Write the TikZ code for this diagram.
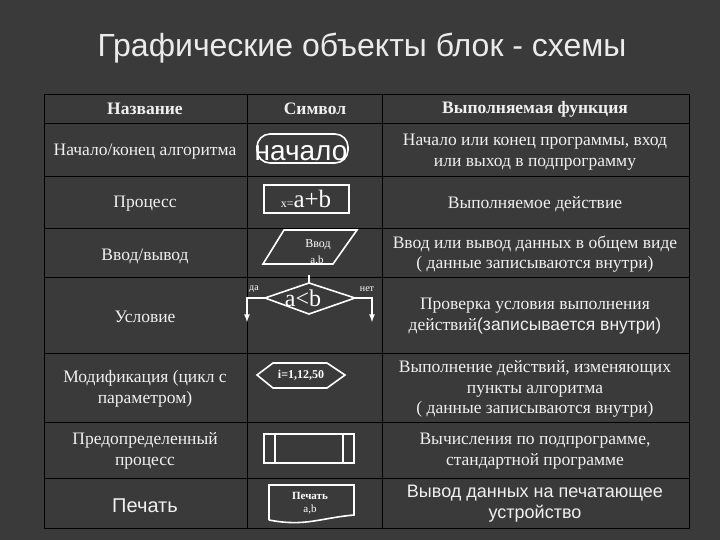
\documentclass[tikz,border=0pt]{standalone}
\usepackage{fontspec}
\setmainfont{Liberation Serif}
\newfontfamily\sansf{Liberation Sans}
\begin{document}
\begin{tikzpicture}[x=1pt,y=-1pt,
  grid/.style={draw=black,line width=0.9pt},
  txt/.style={text={rgb,255:red,240;green,240;blue,240},font=\fontsize{17.5}{20.5}\selectfont,align=center,inner sep=0pt},
  hd/.style={txt,font=\bfseries\fontsize{17.5}{20}\selectfont},
  shp/.style={draw=white,line width=1.6pt},
  sm/.style={text=white,inner sep=0pt}]
\fill[fill={rgb,255:red,58;green,58;blue,58}] (0,0) rectangle (720,540);
\useasboundingbox (0,0) rectangle (720,540);
\node[sm,font=\sansf\fontsize{32}{34}\selectfont,text={rgb,255:red,235;green,235;blue,235}] (title) at (362,48) {Графические объекты блок - схемы};
% grid
\draw[grid] (44,94) rectangle (689,528);
\foreach \y in {123,176,228,277,353,422,478} \draw[grid] (44,\y) -- (689,\y);
\draw[grid] (247,94) -- (247,528);
\draw[grid] (382,94) -- (382,528);
% header
\node[hd] (h1) at (145,109) {Название};
\node[hd] (h2) at (315,109) {Символ};
\node[hd] (h3) at (535,109) {Выполняемая функция};
% column 1
\node[txt] (n1) at (145,152) {Начало/конец алгоритма};
\node[txt] (n2) at (145,204) {Процесс};
\node[txt] (n3) at (145,256) {Ввод/вывод};
\node[txt] (n4) at (145,317) {Условие};
\node[txt] (n5) at (145,389) {Модификация (цикл с\\параметром)};
\node[txt] (n6) at (145,451) {Предопределенный\\процесс};
\node[txt,font=\sansf\fontsize{20}{22}\selectfont] (n7) at (145,506) {Печать};
% column 3
\node[txt] (f1) at (535,152) {Начало или конец программы, вход\\или выход в подпрограмму};
\node[txt] (f2) at (535,204) {Выполняемое действие};
\node[txt] (f3) at (535,254) {Ввод или вывод данных в общем виде\\( данные записываются внутри)};
\node[txt] (f4) at (535,316) {Проверка условия выполнения\\действий{\sansf(записывается внутри)}};
\node[txt] (f5) at (535,389) {Выполнение действий, изменяющих\\пункты алгоритма\\( данные записываются внутри)};
\node[txt] (f6) at (535,451) {Вычисления по подпрограмме,\\стандартной программе};
\node[txt,font=\sansf\fontsize{18}{21}\selectfont] (f7) at (535,504) {Вывод данных на печатающее\\устройство};
% terminal
\draw[shp,rounded corners=13pt] (257,134) rectangle (348,163);
\node[sm,font=\sansf\fontsize{28}{29}\selectfont] (s1) at (301,153) {начало};
% process
\draw[shp] (264,185) rectangle (349,213);
\node[sm] (s2) at (306,199) {{\fontsize{12}{13}\selectfont x=}{\fontsize{25}{26}\selectfont a+b}};
% io
\draw[shp] (263,264) -- (284,230) -- (357,230) -- (333,264) -- cycle;
\node[sm,font=\fontsize{12}{13}\selectfont] (s3a) at (318,245) {Ввод};
\node[sm,font=\fontsize{11}{12}\selectfont] (s3b) at (317,261) {a,b};
% decision
\coordinate (dt) at (309,283);
\coordinate (dl) at (265,298);
\coordinate (dr) at (355,298);
\coordinate (db) at (309,314);
\coordinate (ds) at (309,275);
\draw[shp] (dl) -- (dt) -- (dr) -- (db) -- cycle;
\draw[shp] (ds) -- (dt);
\coordinate (la) at (247,298); \coordinate (lb) at (247,322);
\coordinate (ra) at (372,298); \coordinate (rb) at (372,322);
\draw[shp,-latex] (dl) -- (la) -- (lb);
\draw[shp,-latex] (dr) -- (ra) -- (rb);
\node[sm,font=\fontsize{24}{26}\selectfont] (s4) at (303,298) {a<b};
\node[sm,font=\fontsize{10}{11}\selectfont] (yes) at (254,289) {да};
\node[sm,font=\fontsize{10}{11}\selectfont] (no) at (367,289) {нет};
% hexagon
\draw[shp] (257,375) -- (273,363) -- (327,363) -- (345,375) -- (327,388) -- (273,388) -- cycle;
\node[sm,font=\bfseries\fontsize{12}{13}\selectfont] (s5) at (301,375) {i=1,12,50};
% predefined
\draw[shp] (264,434) rectangle (354,463);
\draw[shp] (275,434) -- (275,463);
\draw[shp] (343,434) -- (343,463);
% document
\draw[shp] (269,520) -- (269,485) -- (354,485) -- (354,515) .. controls (320,518) and (305,527) .. (269,520);
\node[sm,font=\bfseries\fontsize{11}{12}\selectfont] (s7a) at (310,496) {Печать};
\node[sm,font=\fontsize{11}{12}\selectfont] (s7b) at (310,510) {a,b};
\end{tikzpicture}
\end{document}
